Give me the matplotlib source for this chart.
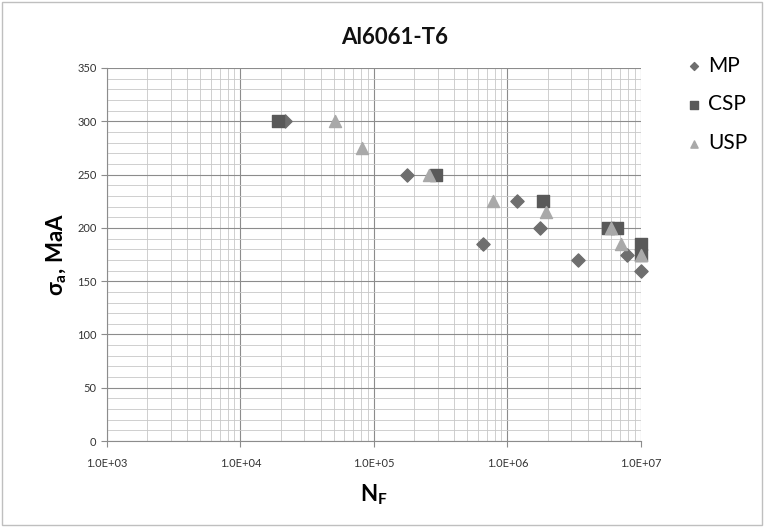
import math
import matplotlib
matplotlib.use("Agg")
import matplotlib.pyplot as plt
from matplotlib.ticker import FixedLocator, LogLocator, FuncFormatter, NullFormatter
from matplotlib.patches import Rectangle

plt.rcParams['font.family'] = ['Lato', 'DejaVu Sans']
plt.rcParams['mathtext.fontset'] = 'custom'
plt.rcParams['mathtext.rm'] = 'Lato'
plt.rcParams['mathtext.it'] = 'Lato:italic'
plt.rcParams['mathtext.bf'] = 'Lato:bold'

title = "Al6061-T6"
series_names = ["MP", "CSP", "USP"]

mp_n = [2.15e4, 1.77e5, 6.5e5, 1.17e6, 1.74e6, 3.4e6, 7.9e6, 1.0e7]
mp_s = [300, 250, 185, 225, 200, 170, 175, 160]

csp_n = [1.9e4, 2.9e5, 1.86e6, 5.7e6, 6.6e6, 1.0e7, 1.0e7]
csp_s = [300, 250, 225, 200, 200, 185, 175]

usp_n = [5.1e4, 8.1e4, 2.6e5, 7.8e5, 1.95e6, 6.0e6, 7.1e6, 1.0e7]
usp_s = [300, 275, 250, 225, 215, 200, 185, 175]

y_ticks = [0, 50, 100, 150, 200, 250, 300, 350]
x_ticks = [1e3, 1e4, 1e5, 1e6, 1e7]

fig = plt.figure(figsize=(7.64, 5.27), dpi=100)
fig.patches.append(Rectangle((0.003, 0.003), 0.994, 0.994, transform=fig.transFigure,
                             fill=False, edgecolor='#bfbfbf', linewidth=1.0))
ax = fig.add_axes([0.140, 0.163, 0.699, 0.708])

ax.set_xscale('log')
ax.set_xlim(1e3, 1e7)
ax.set_ylim(0, 350)

ax.xaxis.set_major_locator(FixedLocator(x_ticks))
ax.xaxis.set_minor_locator(LogLocator(base=10, subs=range(2, 10)))
ax.xaxis.set_minor_formatter(NullFormatter())
ax.xaxis.set_major_formatter(FuncFormatter(lambda v, p: "1.0E+%02d" % round(math.log10(v))))
ax.yaxis.set_major_locator(FixedLocator(y_ticks))
ax.yaxis.set_minor_locator(FixedLocator(list(range(0, 351, 10))))

ax.grid(which='major', color='#8c8c8c', linewidth=0.8)
ax.grid(which='minor', color='#c8c8c8', linewidth=0.6)
ax.set_axisbelow(True)

for s in ['top', 'right']:
    ax.spines[s].set_visible(False)
ax.spines['left'].set_color('#8c8c8c')
ax.spines['bottom'].set_color('#8c8c8c')

ax.tick_params(axis='both', which='major', labelsize=8, color='#8c8c8c', length=4, labelcolor='#333333')
ax.tick_params(axis='both', which='minor', length=0)
ax.tick_params(axis='x', pad=8)

ax.scatter(mp_n, mp_s, marker='D', s=45, color='#6e6e6e', label=series_names[0], zorder=3, clip_on=False)
ax.scatter(csp_n, csp_s, marker='s', s=75, color='#595959', label=series_names[1], zorder=3, clip_on=False)
ax.scatter(usp_n, usp_s, marker='^', s=75, color='#a9a9a9', label=series_names[2], zorder=3, clip_on=False)

fig.text(0.517, 0.928, title, family='Lato', fontsize=16, fontweight='bold',
         color='#111111', ha='center', va='center')
ax.set_xlabel(r"N$_\mathbf{F}$", family='Lato', fontsize=16, fontweight='bold', labelpad=10)
ax.set_ylabel(r"$\mathbf{\sigma_a}$, MaA", family='Lato', fontsize=16, fontweight='bold', labelpad=6)

leg = fig.legend(loc='upper left', bbox_to_anchor=(0.87, 0.93), frameon=False,
                 fontsize=15, handletextpad=0.2, labelspacing=0.9, markerscale=0.6,
                 handlelength=1.0)

fig.savefig("out.png", dpi=100)
